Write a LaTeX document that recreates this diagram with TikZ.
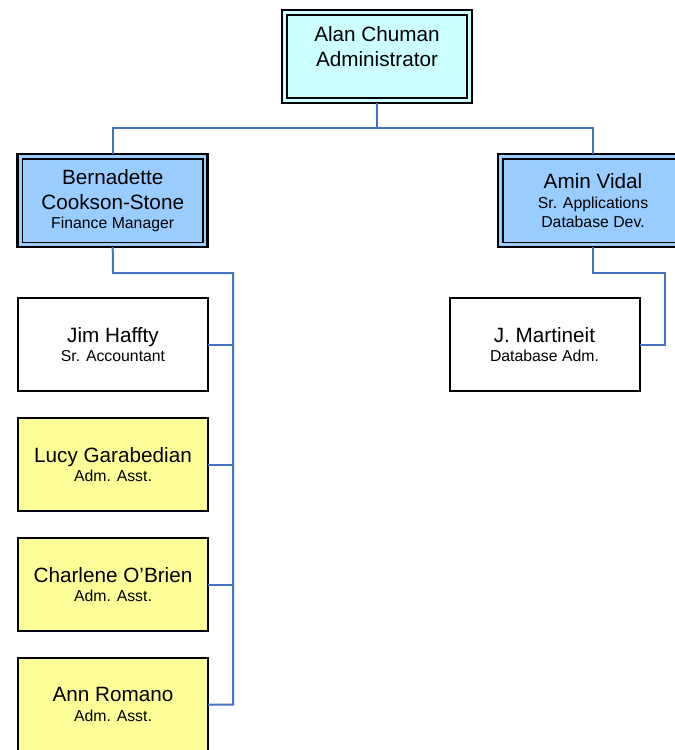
\documentclass[tikz,border=0pt]{standalone}
\usepackage{fontspec}
\setmainfont{Liberation Sans}
\definecolor{linkblue}{RGB}{68,114,196}
\definecolor{topcyan}{RGB}{204,255,255}
\definecolor{mgrblue}{RGB}{153,204,255}
\definecolor{asstyellow}{RGB}{255,255,153}
\newcommand\namef{\fontsize{20.7}{25}\selectfont}
\newcommand\subtf{\fontsize{15.8}{19.5}\selectfont}
\tikzset{
  conn/.style={draw=linkblue, line width=2pt},
  basebox/.style={draw=black, inner sep=0pt, outer sep=0pt, align=center, font=\subtf},
  plainbox/.style={basebox, line width=2pt, fill=white, minimum width=190pt, minimum height=93pt},
  asstbox/.style={plainbox, fill=asstyellow},
  mgrbox/.style={basebox, line width=2.5pt, minimum width=190pt, minimum height=93pt,
    path picture={\draw[line width=1.6pt]
      ([shift={(4.75pt,-4.75pt)}]path picture bounding box.north west) rectangle
      ([shift={(-4.75pt,4.75pt)}]path picture bounding box.south east);}},
}
\begin{document}
\begin{tikzpicture}[x=1pt,y=-1pt]
\useasboundingbox (0,0) rectangle (675,750);
\clip (0,0) rectangle (675,750);
% boxes
\node[mgrbox, fill=topcyan, font=\namef, text depth=21pt] (alan) at (377,56.5) {Alan Chuman\\Administrator};
\node[mgrbox, fill=mgrblue] (bern) at (112.7,200.7) {{\namef Bernadette}\\[5.5pt]{\namef Cookson-Stone}\\Finance Manager};
\node[mgrbox, fill=mgrblue] (amin) at (593,200.7) {{\namef Amin Vidal}\\Sr. Applications\\Database Dev.};
\node[plainbox] (jim) at (113,344.5) {{\namef Jim Haffty}\\Sr. Accountant};
\node[asstbox] (lucy) at (113,464.5) {{\namef Lucy Garabedian}\\Adm. Asst.};
\node[asstbox] (charl) at (113,584.5) {{\namef Charlene O'Brien}\\Adm. Asst.};
\node[asstbox] (ann) at (113,704.5) {{\namef Ann Romano}\\Adm. Asst.};
\node[plainbox] (mart) at (544.5,344.5) {{\namef J. Martineit}\\Database Adm.};
% connectors
\coordinate (bus) at (377,128);
\coordinate (bdrop) at (113,273);
\coordinate (bspine) at (233,273);
\coordinate (adrop) at (593,273);
\coordinate (aspine) at (665,273);
\draw[conn] (alan.south) -- (bus);
\draw[conn] (bern.north) |- (bus) -| (amin.north);
\draw[conn] (bern.south) -- (bdrop) -- (bspine) -- (bspine |- ann.east) -- (ann.east);
\draw[conn] (bspine |- jim.east) -- (jim.east);
\draw[conn] (bspine |- lucy.east) -- (lucy.east);
\draw[conn] (bspine |- charl.east) -- (charl.east);
\draw[conn] (amin.south) -- (adrop) -- (aspine) |- (mart.east);
\end{tikzpicture}
\end{document}
